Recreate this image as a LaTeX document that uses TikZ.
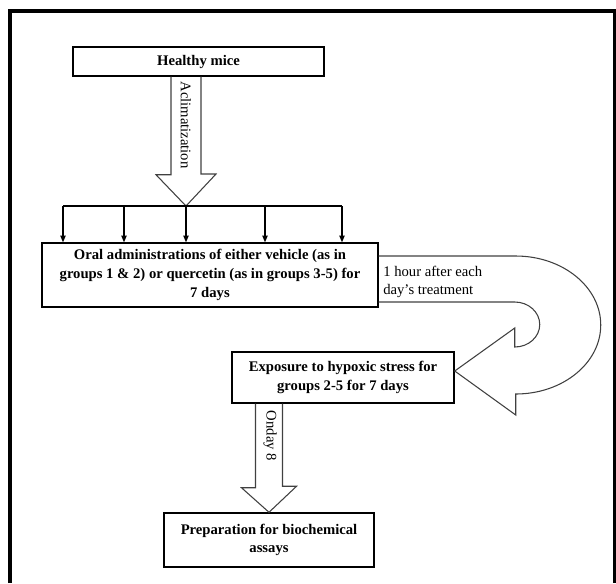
\documentclass[tikz,border=0pt]{standalone}
\usepackage{fontspec}
\setmainfont{Liberation Serif}
\usetikzlibrary{calc,arrows.meta}

\begin{document}
\begin{tikzpicture}[x=0.75pt,y=-0.75pt,
		stepbox/.style={draw,line width=1.1pt,inner sep=0pt,align=center,
		font=\fontsize{11}{14}\selectfont\bfseries},
		note/.style={inner sep=0pt,font=\fontsize{11}{14}\selectfont},
		blockarrow/.style={draw=black!75,line width=0.8pt,line join=miter},
		tip/.style={-{Triangle[length=5pt,width=4pt]},line width=0.8pt}
		]
		\useasboundingbox (0,0) rectangle (616,583);
		\draw[line width=3.5pt] (10,583) -- (10,11) -- (616,11);
		\draw[line width=1.8pt] (614.5,11) -- (614.5,583);

		\node[stepbox, minimum width=188.25pt, minimum height=21.75pt](S0) at (198.5,61.5){Healthy mice};
		\node[stepbox, minimum width=252pt, minimum height=48pt](S1) at (210,275){Oral administrations of either vehicle (as in\\groups 1 \& 2) or quercetin (as in groups 3-5) for\\7 days};
		\node[stepbox, minimum width=166.5pt, minimum height=38.25pt](S2) at (343,377.5){Exposure to hypoxic stress for\\groups 2-5 for 7 days};
		\node[stepbox, minimum width=157.5pt, minimum height=40.5pt](S3) at (269,540){Preparation for biochemical\\assays};

		\coordinate (A0) at (186,206);
		\draw[blockarrow] ($(S0.south -| A0)+(-15,0)$) -- ++(0,98) -- ++(-15,0) -- (A0)
		-- ++(30,-32) -- ++(-15,0) -- ($(S0.south -| A0)+(15,0)$);
		\node[note, rotate=-90](L0) at (186,125){Aclimatization};

		\coordinate (B0) at (63,206);
		\coordinate (B1) at (342,206);
		\draw[line width=0.8pt] (B0) -- (B1);
		\foreach \x in {63,124,186,265,342}{
			\coordinate (d) at (\x,206);
			\draw[tip] (d) -- (d |- S1.north);
		}

		\draw[blockarrow] ($(S1.east)+(0,-19)$) -- ++(137,0)
		arc[start angle=-90, end angle=90, x radius=85, y radius=69] -- ++(0,21)
		-- ($(S2.east)+(0,-6.5)$) -- ++(60,-43) -- ++(0,19)
		arc[start angle=90, end angle=-90, x radius=25, y radius=22.5]
		-- ($(S1.east)+(0,27)$);
		\node[note, anchor=west, align=left](L2) at (383,282){1 hour after each\\day’s treatment};

		\coordinate (A1) at (S3.north);
		\draw[blockarrow] ($(S2.south -| A1)+(-13.5,0)$) -- ++(0,84) -- ++(-14,0) -- (A1)
		-- ++(27.5,-26) -- ++(-14,0) -- ($(S2.south -| A1)+(13.5,0)$);
		\node[note, rotate=-90](L1) at (270,436){Onday 8};
	\end{tikzpicture}
\end{document}
